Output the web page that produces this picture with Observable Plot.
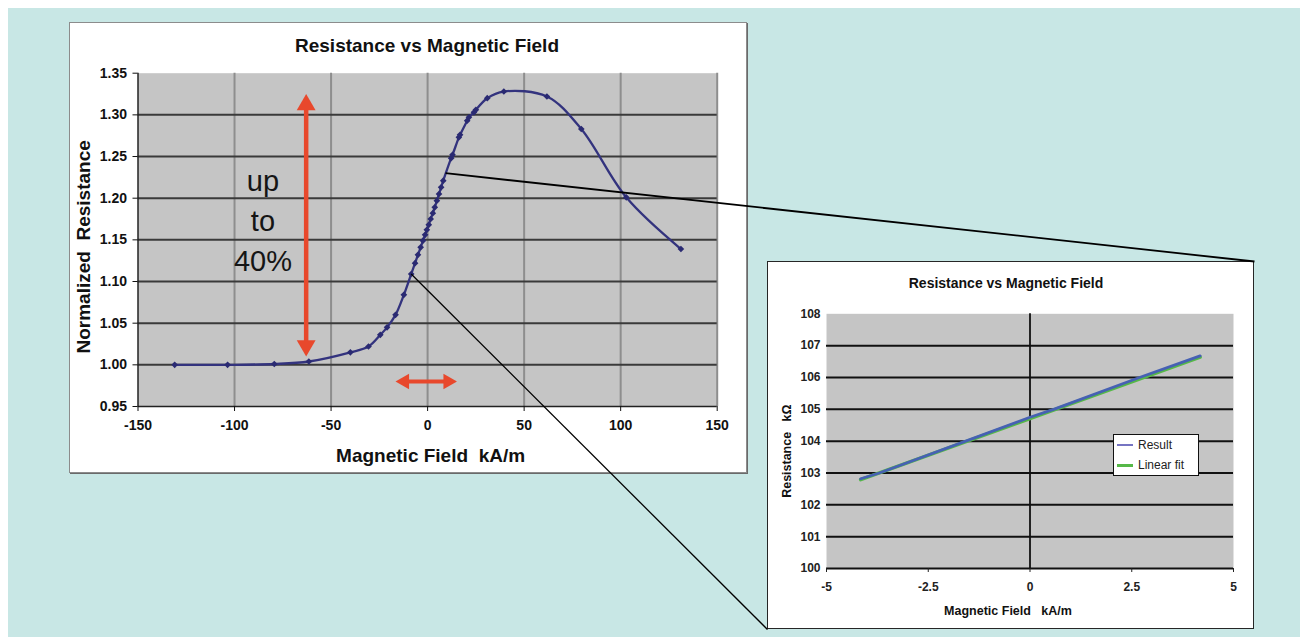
<!DOCTYPE html>
<html>
<head>
<meta charset="utf-8">
<script src="https://cdn.jsdelivr.net/npm/d3@7"></script>
<script src="https://cdn.jsdelivr.net/npm/@observablehq/plot@0.6"></script>
<style>
  html, body { margin: 0; padding: 0; background: #fff; }
  #page { position: relative; width: 1300px; height: 637px; overflow: hidden; background: #fff; font-family: "Liberation Sans", Arial, sans-serif; }
  .abs { position: absolute; }
</style>
</head>
<body>
<div id="page">
  <div class="abs" style="left:8px;top:8px;right:0;bottom:0;background:#c8e7e5"></div>
  <div id="mainPanel" class="abs" style="left:69px;top:22px;width:678px;height:451px;background:#fff;border:1px solid #8c8c8c;box-sizing:border-box;box-shadow:1px 1px 0 #6a6a6a"></div>
  <div id="mainTitle" class="abs" style="left:137.5px;width:579px;top:34.5px;line-height:22px;text-align:center;font-weight:bold;font-size:19px;color:#111"></div>
  <div id="mainChart" class="abs" style="left:69px;top:68px"></div>

  <div id="insetPanel" class="abs" style="left:767px;top:261px;width:487px;height:368px;background:#fff;border:1.5px solid #262626;box-sizing:border-box"></div>
  <div id="insetTitle" class="abs" style="left:767px;width:478px;top:275px;line-height:16px;text-align:center;font-weight:bold;font-size:14px;color:#111"></div>
  <div id="insetChart" class="abs" style="left:767px;top:300px"></div>
  <div id="legend" class="abs" style="left:1113px;top:434px;width:86px;height:42px;background:#fff;border:1.5px solid #111;box-sizing:border-box"></div>

  <div id="overlay" class="abs" style="left:0;top:0;pointer-events:none"></div>
</div>
<script>
// ---------- Main chart data ----------
const chartTitle = "Resistance vs Magnetic Field";
const fieldKA = [-131.0, -103.6, -79.4, -61.5, -40.0, -30.6, -24.5, -21.0, -16.6, -12.3,
  -8.5, -6.5, -5.0, -3.6, -2.4, -1.3, -0.4, 0.6, 1.6, 2.7,
  3.7, 4.8, 5.9, 7.0, 8.1, 12.2, 12.9, 16.2, 16.8, 20.5,
  21.4, 24.0, 25.0, 30.9, 39.5, 61.8, 79.6, 102.9, 131.2];
const normResistance = [1.000, 1.000, 1.001, 1.004, 1.015, 1.022, 1.036, 1.045, 1.060, 1.084,
  1.109, 1.122, 1.132, 1.141, 1.149, 1.156, 1.162, 1.168, 1.175, 1.182,
  1.189, 1.197, 1.205, 1.213, 1.221, 1.248, 1.252, 1.273, 1.276, 1.293,
  1.297, 1.303, 1.306, 1.320, 1.328, 1.322, 1.283, 1.201, 1.139];
const mainXTicks = [-150, -100, -50, 0, 50, 100, 150];
const mainYTicks = [0.95, 1.00, 1.05, 1.10, 1.15, 1.20, 1.25, 1.30, 1.35];
const mainXLabel = "Magnetic Field\u00a0\u00a0kA/m";
const mainYLabel = "Normalized\u00a0 Resistance";

// annotations (data coordinates)
const vArrowX = [-62.9];
const vArrowY = [1.325, 1.010];
const hArrowX = [-16.6, 15.2];
const hArrowY = [0.980];
const noteText = ["up", "to", "40%"];
const noteX = [-85.3];
const noteY = [1.176];

// zoom connectors: start points on the main curve, ending at inset corners
const connectorX = [9.3, -8.5];
const connectorY = [1.230, 1.109];
const connectorCorner = ["top-right", "bottom-left"];
const connectorWidth = [1.8, 1.3];

// ---------- Inset data ----------
const insetTitle = "Resistance vs Magnetic Field";
const resultField = [-4.16, -3.70, -1.58, 0, 0.58, 2.69, 4.18];
const resultKOhm = [102.82, 103.0, 104.0, 104.75, 105.0, 106.0, 106.68];
const fitField = [-4.16, 4.18];
const fitKOhm = [102.79, 106.64];
const insetXTicks = [-5, -2.5, 0, 2.5, 5];
const insetYTicks = [100, 101, 102, 103, 104, 105, 106, 107, 108];
const insetXLabel = "Magnetic Field\u00a0\u00a0\u00a0kA/m";
const insetYLabel = "Resistance\u00a0\u00a0\u00a0k\u03a9";
const seriesNames = ["Result", "Linear fit"];
const seriesColors = ["#4661b3", "#56b848"];
const legendColors = ["#7674c2", "#56b848"];

// ---------- Build main chart ----------
const RED = "#e8482c";
const font = "'Liberation Sans', Arial, sans-serif";
const mainData = fieldKA.map((x, i) => ({x, y: normResistance[i]}));

document.getElementById("mainTitle").textContent = chartTitle;
document.getElementById("insetTitle").textContent = insetTitle;

const main = Plot.plot({
  width: 678, height: 405,
  marginLeft: 68.5, marginRight: 30.3, marginTop: 4.7, marginBottom: 67,
  x: {domain: [mainXTicks[0], mainXTicks[mainXTicks.length - 1]]},
  y: {domain: [mainYTicks[0], mainYTicks[mainYTicks.length - 1]]},
  style: {background: "transparent", fontFamily: font, color: "#111", overflow: "visible"},
  marks: [
    Plot.frame({fill: "#c5c5c5", stroke: "none"}),
    Plot.ruleX(mainXTicks.slice(1), {stroke: "#8e8e8e", strokeWidth: 2}),
    Plot.ruleY(mainYTicks.slice(1, -1), {stroke: "#3a3a3a", strokeWidth: 2}),
    Plot.ruleX(mainXTicks.slice(0, 1), {stroke: "#222", strokeWidth: 1.5}),
    Plot.ruleY(mainYTicks.slice(0, 1), {stroke: "#222", strokeWidth: 1.5}),
    Plot.axisX({ticks: mainXTicks, tickFormat: d => String(d), tickSize: 5, tickPadding: 9,
      fontSize: 14, fontWeight: "bold", label: null}),
    Plot.axisY({ticks: mainYTicks, tickFormat: d => d.toFixed(2), tickSize: 5, tickPadding: 6,
      fontSize: 14, fontWeight: "bold", label: null}),
    // red arrows
    Plot.ruleX(vArrowX, {y1: vArrowY[0], y2: vArrowY[1], stroke: RED, strokeWidth: 4.5, insetTop: 9, insetBottom: 9}),
    Plot.dot(vArrowX, {x: d => d, y: () => vArrowY[0], symbol: "triangle", r: 7, fill: RED, stroke: "none", dy: 10.9}),
    Plot.dot(vArrowX, {x: d => d, y: () => vArrowY[1], symbol: "triangle", r: 7, fill: RED, stroke: "none", rotate: 180, dy: -10.9}),
    Plot.ruleY(hArrowY, {x1: hArrowX[0], x2: hArrowX[1], stroke: RED, strokeWidth: 4, insetLeft: 7, insetRight: 7}),
    Plot.dot(hArrowY, {x: () => hArrowX[1], y: d => d, symbol: "triangle", r: 5.8, fill: RED, stroke: "none", rotate: 90, dx: -9}),
    Plot.dot(hArrowY, {x: () => hArrowX[0], y: d => d, symbol: "triangle", r: 5.8, fill: RED, stroke: "none", rotate: -90, dx: 9}),
    // curve
    Plot.line(mainData, {x: "x", y: "y", curve: "catmull-rom", stroke: "#33337e", strokeWidth: 2.3}),
    Plot.dot(mainData, {x: "x", y: "y", symbol: "diamond2", r: 3, fill: "#2a2a72", stroke: "none"}),
    // note text
    Plot.text([noteText.join("\n")], {x: () => noteX[0], y: () => noteY[0], text: d => d,
      fontSize: 29, fontWeight: "normal", fill: "#151515", lineHeight: 1.38, lineAnchor: "middle", textAnchor: "middle"}),
    // axis titles
    Plot.text([mainXLabel], {frameAnchor: "bottom", text: d => d, dy: 49, dx: 3, lineAnchor: "middle", textAnchor: "middle",
      fontSize: 19, fontWeight: "bold", fill: "#111"}),
    Plot.text([mainYLabel], {frameAnchor: "left", text: d => d, dx: -54, dy: 7, rotate: -90, lineAnchor: "middle", textAnchor: "middle",
      fontSize: 19, fontWeight: "bold", fill: "#111"})
  ]
});
document.getElementById("mainChart").appendChild(main);

// ---------- Build inset ----------
const resultData = resultField.map((x, i) => ({x, y: resultKOhm[i]}));
const fitData = fitField.map((x, i) => ({x, y: fitKOhm[i]}));

const inset = Plot.plot({
  width: 487, height: 329,
  marginLeft: 59, marginRight: 21, marginTop: 13.3, marginBottom: 61,
  x: {domain: [insetXTicks[0], insetXTicks[insetXTicks.length - 1]]},
  y: {domain: [insetYTicks[0], insetYTicks[insetYTicks.length - 1]]},
  style: {background: "transparent", fontFamily: font, color: "#222", overflow: "visible"},
  marks: [
    Plot.frame({fill: "#c5c5c5", stroke: "none"}),
    Plot.ruleY(insetYTicks.slice(1, -1), {stroke: "#111", strokeWidth: 2}),
    Plot.ruleX([0], {stroke: "#111", strokeWidth: 1.8}),
    Plot.ruleY(insetYTicks.slice(0, 1), {stroke: "#111", strokeWidth: 2}),
    Plot.axisX({ticks: insetXTicks, tickFormat: d => String(d), tickSize: 4, tickPadding: 10,
      fontSize: 12, fontWeight: "bold", label: null}),
    Plot.axisY({ticks: insetYTicks, tickFormat: d => String(d), tickSize: 0, tickPadding: 6,
      fontSize: 12, fontWeight: "bold", label: null}),
    Plot.line(fitData, {x: "x", y: "y", stroke: seriesColors[1], strokeWidth: 3.6}),
    Plot.line(resultData, {x: "x", y: "y", stroke: seriesColors[0], strokeWidth: 2.8}),
    Plot.text([insetXLabel], {frameAnchor: "bottom", text: d => d, dy: 42, dx: -22, lineAnchor: "middle", textAnchor: "middle",
      fontSize: 12.5, fontWeight: "bold", fill: "#111"}),
    Plot.text([insetYLabel], {frameAnchor: "left", text: d => d, dx: -40, dy: 10, rotate: -90, lineAnchor: "middle", textAnchor: "middle",
      fontSize: 12.5, fontWeight: "bold", fill: "#111"})
  ]
});
document.getElementById("insetChart").appendChild(inset);

// ---------- Legend ----------
const legend = document.getElementById("legend");
seriesNames.forEach((name, i) => {
  const row = document.createElement("div");
  row.style.cssText = `position:absolute;left:0;top:${i === 0 ? 0 : 20}px;height:20px;width:100%;`;
  const line = document.createElement("span");
  line.style.cssText = `position:absolute;left:3px;top:${i === 0 ? 9 : 8.5}px;width:16px;height:${i === 0 ? 2 : 3.5}px;background:${legendColors[i]}`;
  const txt = document.createElement("span");
  txt.textContent = name;
  txt.style.cssText = "position:absolute;left:24px;top:2px;line-height:16px;font-size:12px;color:#222;white-space:nowrap";
  row.appendChild(line); row.appendChild(txt);
  legend.appendChild(row);
});

// ---------- Connector overlay ----------
const page = document.getElementById("page").getBoundingClientRect();
const mr = main.getBoundingClientRect();
const ir = document.getElementById("insetPanel").getBoundingClientRect();
const sx = main.scale("x"), sy = main.scale("y");
const corners = {
  "top-right": [ir.right - page.left, ir.top - page.top],
  "bottom-left": [ir.left - page.left, ir.bottom - page.top]
};
const connectors = connectorX.map((x, i) => ({
  x1: mr.left - page.left + sx.apply(x),
  y1: mr.top - page.top + sy.apply(connectorY[i]),
  x2: corners[connectorCorner[i]][0],
  y2: corners[connectorCorner[i]][1],
  w: connectorWidth[i]
}));
const overlay = Plot.plot({
  width: 1300, height: 637, margin: 0,
  x: {type: "identity", axis: null}, y: {type: "identity", axis: null},
  style: {background: "transparent", overflow: "visible"},
  marks: [
    Plot.link(connectors, {x1: "x1", y1: "y1", x2: "x2", y2: "y2", stroke: "#000", strokeWidth: "w"})
  ]
});
document.getElementById("overlay").appendChild(overlay);
</script>
</body>
</html>
